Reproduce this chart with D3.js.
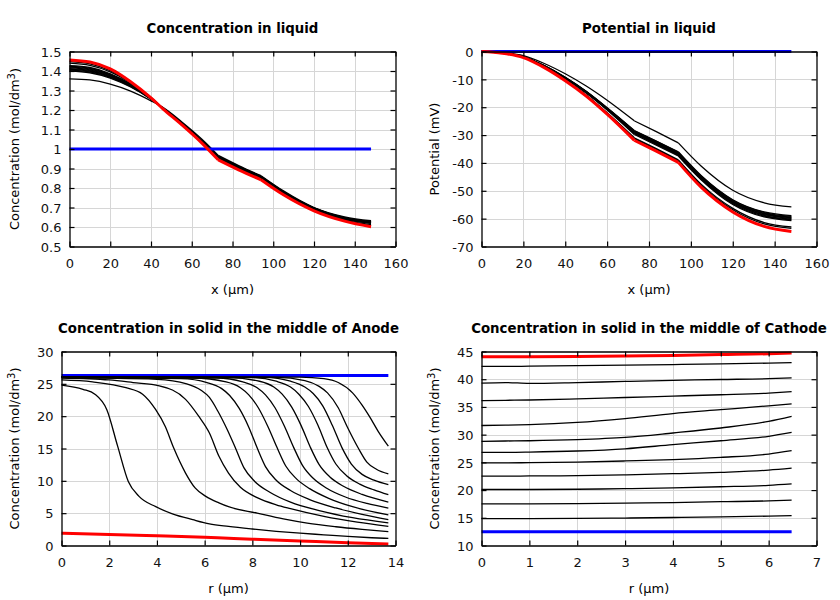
<!DOCTYPE html>
<html><head><meta charset="utf-8">
<script src="https://cdn.jsdelivr.net/npm/d3@7"></script>
<style>body{margin:0;background:#fff}svg{display:block}</style>
</head><body><svg id="c" width="840" height="600"></svg>
<script>
// ---------- Panel 1: concentration in liquid ----------
const liqX = [0,10,20,30,40,46,55,65,73,83,94,105,120,135,148];
const liqBounds = [73, 94];
const liqInitial = 1.0;
const liqFinal = [1.457,1.446,1.411,1.345,1.262,1.205,1.125,1.030,0.944,0.893,0.842,0.765,0.683,0.630,0.601];
const liqSteps = [
 [1.360,1.354,1.333,1.297,1.247,1.212,1.140,1.050,0.967,0.915,0.863,0.785,0.700,0.652,0.632],
 [1.400,1.391,1.364,1.318,1.255,1.209,1.135,1.043,0.962,0.911,0.860,0.782,0.698,0.648,0.628],
 [1.404,1.395,1.367,1.321,1.256,1.209,1.134,1.042,0.961,0.910,0.859,0.781,0.697,0.647,0.627],
 [1.408,1.399,1.370,1.323,1.257,1.209,1.133,1.041,0.960,0.909,0.858,0.780,0.696,0.645,0.625],
 [1.412,1.402,1.373,1.325,1.258,1.208,1.132,1.040,0.959,0.908,0.857,0.779,0.695,0.644,0.624],
 [1.416,1.406,1.376,1.328,1.259,1.208,1.131,1.039,0.958,0.907,0.856,0.778,0.694,0.643,0.622],
 [1.420,1.410,1.380,1.330,1.260,1.208,1.130,1.038,0.957,0.906,0.855,0.777,0.693,0.642,0.621],
 [1.424,1.414,1.383,1.332,1.261,1.207,1.129,1.037,0.956,0.905,0.854,0.776,0.692,0.641,0.620],
 [1.428,1.418,1.386,1.334,1.262,1.207,1.128,1.036,0.955,0.904,0.853,0.775,0.691,0.640,0.619],
 [1.440,1.429,1.396,1.340,1.264,1.206,1.127,1.033,0.950,0.899,0.848,0.770,0.687,0.635,0.612],
 [1.448,1.437,1.402,1.342,1.263,1.206,1.126,1.032,0.947,0.896,0.845,0.768,0.685,0.633,0.607]
];

// ---------- Panel 2: potential in liquid ----------
const potX = [0,10,20,30,40,50,60,73,83,94,105,120,135,148];
const potBounds = [73, 94];
const potInitial = 0;
const potFinal = [0,-0.6,-2.2,-5.8,-10.5,-16.0,-22.5,-31.9,-35.6,-39.8,-48.8,-57.6,-62.8,-64.6];
const potSteps = [
 [0,-0.4,-1.5,-4.3,-8.0,-12.4,-17.5,-24.9,-28.6,-32.8,-41.2,-49.8,-54.3,-55.8],
 [0,-0.5,-1.9,-5.1,-9.3,-14.3,-20.2,-28.4,-32.0,-36.0,-44.6,-53.2,-57.6,-58.9],
 [0,-0.5,-1.9,-5.1,-9.3,-14.4,-20.3,-28.5,-32.1,-36.2,-44.8,-53.4,-57.8,-59.2],
 [0,-0.5,-1.9,-5.1,-9.4,-14.4,-20.4,-28.7,-32.3,-36.4,-45.0,-53.7,-58.1,-59.5],
 [0,-0.5,-1.9,-5.2,-9.4,-14.5,-20.5,-28.9,-32.5,-36.6,-45.2,-53.9,-58.3,-59.7],
 [0,-0.5,-1.9,-5.2,-9.5,-14.6,-20.6,-29.1,-32.7,-36.8,-45.4,-54.1,-58.6,-59.9],
 [0,-0.5,-2.0,-5.2,-9.5,-14.7,-20.7,-29.3,-32.9,-37.0,-45.6,-54.3,-58.8,-60.2],
 [0,-0.5,-2.0,-5.3,-9.6,-14.8,-20.8,-29.5,-33.1,-37.2,-45.8,-54.6,-59.1,-60.4],
 [0,-0.5,-2.0,-5.3,-9.7,-14.9,-21.0,-29.8,-33.4,-37.5,-46.1,-54.9,-59.4,-60.7],
 [0,-0.6,-2.1,-5.6,-10.2,-15.6,-22.0,-31.0,-34.7,-38.9,-47.7,-56.3,-61.4,-63.0],
 [0,-0.6,-2.1,-5.7,-10.3,-15.8,-22.2,-31.3,-35.0,-39.2,-48.1,-56.8,-61.9,-63.5]
];

// ---------- Panel 3: solid concentration, anode (r, c) ----------
const anodeREnd = 13.7;
const anodeInitial = 26.3;
const anodeFinal = [[0,1.9],[2,1.72],[4,1.5],[6,1.27],[7,1.12],[8,0.98],[10,0.7],[12,0.42],[13.7,0.22]];
const anodeSteps = [
 [[0,26.1],[10,26.05],[11,25.8],[11.6,25.2],[12.2,23.6],[12.6,21.7],[12.9,20.0],[13.3,17.5],[13.7,15.35]],
 [[0,26.1],[9,26.0],[10.2,25.5],[10.8,24.6],[11.15,23.6],[11.6,21.3],[11.97,18.4],[12.45,15.0],[12.8,12.9],[13.2,11.8],[13.7,11.06]],
 [[0,26.1],[8.5,26.0],[9.6,25.4],[10.2,24.5],[10.55,23.5],[10.95,21.6],[11.35,18.6],[11.76,15.1],[12.15,12.6],[12.6,11.0],[13.1,10.1],[13.7,9.4]],
 [[0,26.05],[8,25.95],[9,25.4],[9.6,24.5],[9.95,23.4],[10.35,21.5],[10.75,18.6],[11.13,15.2],[11.5,12.6],[11.95,10.8],[12.5,9.5],[13.1,8.6],[13.7,7.85]],
 [[0,26.05],[7,25.95],[8.3,25.4],[8.9,24.5],[9.25,23.4],[9.65,21.4],[10.05,18.5],[10.43,15.2],[10.8,12.5],[11.25,10.6],[11.8,9.2],[12.6,7.9],[13.7,6.71]],
 [[0,26.0],[6.5,25.9],[7.6,25.3],[8.2,24.4],[8.55,23.3],[8.95,21.3],[9.35,18.4],[9.74,15.1],[10.1,12.4],[10.55,10.4],[11.1,8.9],[11.9,7.5],[12.8,6.5],[13.7,5.78]],
 [[0,26.0],[5.5,25.9],[6.9,25.3],[7.5,24.4],[7.85,23.3],[8.25,21.3],[8.65,18.4],[9.04,15.1],[9.4,12.3],[9.85,10.3],[10.4,8.8],[11.2,7.3],[12.2,6.0],[13.7,4.75]],
 [[0,26.0],[5,25.8],[6.1,25.2],[6.7,24.3],[7.05,23.2],[7.45,21.2],[7.85,18.3],[8.2,15.1],[8.55,12.2],[9.0,10.1],[9.6,8.5],[10.4,7.1],[11.5,5.8],[12.6,4.8],[13.7,4.0]],
 [[0,25.95],[4,25.7],[5.25,25.0],[5.85,24.0],[6.2,22.9],[6.55,20.8],[6.95,17.9],[7.3,15.0],[7.65,12.0],[8.1,9.9],[8.75,8.2],[9.6,6.7],[10.8,5.4],[12.2,4.3],[13.7,3.5]],
 [[0,25.9],[2,25.6],[3,25.2],[4.1,24.7],[5.2,22.6],[5.75,20.0],[6.2,17.4],[6.6,13.8],[7.0,11.2],[7.5,9.0],[8.2,7.4],[9,6.3],[9.6,5.7],[11,4.5],[12.4,3.6],[13.7,2.95]],
 [[0,25.6],[1.3,25.3],[2.7,24.4],[3.4,23.4],[3.95,21.0],[4.35,18.4],[4.7,15.1],[5.2,11.2],[5.6,8.9],[6.05,7.6],[6.6,6.6],[7.0,6.0],[8.2,5.0],[9.3,4.1],[10.3,3.45],[11.5,2.9],[12.6,2.5],[13.7,2.15]],
 [[0,24.8],[0.9,24.15],[1.4,23.4],[1.9,21.0],[2.35,15.4],[2.8,9.9],[3.25,7.6],[3.95,6.0],[4.65,4.9],[5.5,4.0],[6.2,3.35],[7.0,2.95],[8,2.55],[9,2.2],[10,1.9],[11,1.65],[12,1.4],[13,1.2],[13.7,1.1]]
];

// ---------- Panel 4: solid concentration, cathode ----------
const cathX = [0,0.5,1,2,3,4,5,6,6.48];
const cathInitial = 12.5;
const cathFinal = [44.05,44.05,44.05,44.1,44.2,44.3,44.45,44.6,44.75];
const cathSteps = [
 [42.3,42.3,42.35,42.45,42.55,42.65,42.75,42.9,43.0],
 [39.3,39.4,39.25,39.4,39.6,39.8,39.95,40.1,40.25],
 [36.15,36.2,36.25,36.45,36.7,36.95,37.2,37.5,37.75],
 [31.65,31.7,31.8,32.2,32.9,33.8,34.5,35.2,35.55],
 [28.8,28.85,28.9,29.1,29.5,30.3,31.2,32.4,33.3],
 [26.8,26.8,26.85,27.05,27.45,28.2,28.9,29.7,30.4],
 [24.9,24.9,24.95,25.05,25.25,25.5,25.9,26.5,27.1],
 [22.5,22.5,22.55,22.6,22.75,22.95,23.2,23.6,23.95],
 [20.1,20.1,20.1,20.15,20.25,20.4,20.6,20.85,21.1],
 [17.5,17.5,17.5,17.55,17.65,17.75,17.9,18.05,18.2],
 [14.85,14.85,14.85,14.9,14.95,15.05,15.15,15.3,15.4]
];

// ---------- drawing ----------
const svg = d3.select("#c");
const FONT = "DejaVu Sans, sans-serif";

function splitAt(pts, bounds){
  if(!bounds) return [pts];
  const segs=[]; let cur=[];
  pts.forEach(p=>{ cur.push(p); if(bounds.includes(p[0]) && cur.length>1){ segs.push(cur); cur=[p]; } });
  if(cur.length>1) segs.push(cur);
  return segs;
}

function drawPanel(o){
  const x = d3.scaleLinear().domain(o.xDom).range([o.l,o.r]);
  const y = d3.scaleLinear().domain(o.yDom).range([o.b,o.t]);
  const xt = d3.range(o.xDom[0], o.xDom[1]+1e-9, o.xStep);
  const yt = d3.range(o.yDom[0], o.yDom[1]+1e-9, o.yStep);
  const g = svg.append("g");
  const grid = g.append("g").attr("stroke","#d6d6d6").attr("stroke-width",1);
  grid.selectAll("line.gx").data(xt.slice(1,-1)).join("line")
    .attr("x1",d=>Math.round(x(d))+0.5).attr("x2",d=>Math.round(x(d))+0.5).attr("y1",o.t).attr("y2",o.b);
  grid.selectAll("line.gy").data(yt.slice(1,-1)).join("line")
    .attr("y1",d=>Math.round(y(d))+0.5).attr("y2",d=>Math.round(y(d))+0.5).attr("x1",o.l).attr("x2",o.r);

  const line = d3.line().x(d=>x(d[0])).y(d=>y(d[1])).curve(d3.curveMonotoneX);
  const lg = g.append("g").attr("fill","none").attr("stroke-linejoin","round").attr("stroke-linecap","butt");
  o.series.forEach(s=>{
    splitAt(s.pts, s.bounds).forEach(seg=>{
      lg.append("path").attr("d", line(seg)).attr("stroke", s.color).attr("stroke-width", s.w);
    });
  });

  const fmt = o.fmt || (d=>String(+d.toFixed(1)));
  const styleAx = a => { a.selectAll("text").attr("font-family",FONT).attr("font-size",13).attr("fill","#111");
    a.selectAll("line").attr("stroke","#000").attr("stroke-width",1.2);
    a.select(".domain").attr("stroke","#000").attr("stroke-width",1.3); };
  const bx = g.append("g").attr("transform",`translate(0,${o.b})`)
    .call(d3.axisBottom(x).tickValues(xt).tickSize(-5).tickSizeOuter(0).tickPadding(12).tickFormat(fmt)).call(styleAx);
  g.append("g").attr("transform",`translate(0,${o.t})`)
    .call(d3.axisTop(x).tickValues(xt).tickSize(-5).tickSizeOuter(0).tickFormat("")).call(styleAx);
  const ly = g.append("g").attr("transform",`translate(${o.l},0)`)
    .call(d3.axisLeft(y).tickValues(yt).tickSize(-5).tickSizeOuter(0).tickPadding(8).tickFormat(fmt)).call(styleAx);
  g.append("g").attr("transform",`translate(${o.r},0)`)
    .call(d3.axisRight(y).tickValues(yt).tickSize(-5).tickSizeOuter(0).tickFormat("")).call(styleAx);
  bx.selectAll(".tick text").attr("dy","0.71em");
  ly.selectAll(".tick text").attr("dy","0.36em");

  const cx = (o.l+o.r)/2, cy = (o.t+o.b)/2;
  g.append("text").attr("x",cx).attr("y",o.t-19).attr("text-anchor","middle")
    .attr("font-family","DejaVu Sans Condensed, DejaVu Sans, sans-serif").attr("font-stretch","condensed")
    .attr("font-weight","bold").attr("font-size",14.8).text(o.title);
  g.append("text").attr("x",cx).attr("y",o.b+47).attr("text-anchor","middle")
    .attr("font-family",FONT).attr("font-size",13).text(o.xLabel);
  const yl = g.append("text").attr("transform",`translate(${o.yLabX},${cy}) rotate(-90)`).attr("text-anchor","middle")
    .attr("font-family",FONT).attr("font-size",13);
  yl.append("tspan").text(o.yLabel);
  if(o.ySup){
    yl.append("tspan").attr("dy","-0.45em").attr("font-size",10).text(o.ySup);
    yl.append("tspan").attr("dy","0.45em").text(o.yLabelEnd);
  }
}

const black = 1.3, thick = 3;
const zip = (xs, ys) => xs.map((v,i)=>[v, ys[i]]);

drawPanel({l:69.5,r:395.5,t:51.5,b:246.5, xDom:[0,160], xStep:20, yDom:[0.5,1.5], yStep:0.1,
  title:"Concentration in liquid", xLabel:"x (µm)", yLabel:"Concentration (mol/dm", ySup:"3", yLabelEnd:")", yLabX:19,
  series:[...liqSteps.map(s=>({pts:zip(liqX,s), bounds:liqBounds, color:"#000", w:black})),
    {pts:[[liqX[0],liqInitial],[liqX[liqX.length-1],liqInitial]], color:"#0000ff", w:thick},
    {pts:zip(liqX,liqFinal), bounds:liqBounds, color:"#ff0000", w:thick}]});

drawPanel({l:481.5,r:816.5,t:51.5,b:246.5, xDom:[0,160], xStep:20, yDom:[-70,0], yStep:10,
  title:"Potential in liquid", xLabel:"x (µm)", yLabel:"Potential (mV)", yLabX:439,
  series:[...potSteps.map(s=>({pts:zip(potX,s), bounds:potBounds, color:"#000", w:black})),
    {pts:[[potX[0],potInitial],[potX[potX.length-1],potInitial]], color:"#0000ff", w:thick},
    {pts:zip(potX,potFinal), bounds:potBounds, color:"#ff0000", w:thick}]});

drawPanel({l:61.5,r:395.5,t:351.5,b:545.5, xDom:[0,14], xStep:2, yDom:[0,30], yStep:5,
  title:"Concentration in solid in the middle of Anode", xLabel:"r (µm)", yLabel:"Concentration (mol/dm", ySup:"3", yLabelEnd:")", yLabX:19,
  series:[{pts:[[0,anodeInitial],[anodeREnd,anodeInitial]], color:"#0000ff", w:thick},
    ...anodeSteps.map(s=>({pts:s, color:"#000", w:black})),
    {pts:anodeFinal, color:"#ff0000", w:thick}]});

drawPanel({l:481.5,r:816.5,t:351.5,b:545.5, xDom:[0,7], xStep:1, yDom:[10,45], yStep:5,
  title:"Concentration in solid in the middle of Cathode", xLabel:"r (µm)", yLabel:"Concentration (mol/dm", ySup:"3", yLabelEnd:")", yLabX:439,
  series:[...cathSteps.map(s=>({pts:zip(cathX,s), color:"#000", w:black})),
    {pts:[[cathX[0],cathInitial],[cathX[cathX.length-1],cathInitial]], color:"#0000ff", w:thick},
    {pts:zip(cathX,cathFinal), color:"#ff0000", w:thick}]});
</script>
</body></html>
